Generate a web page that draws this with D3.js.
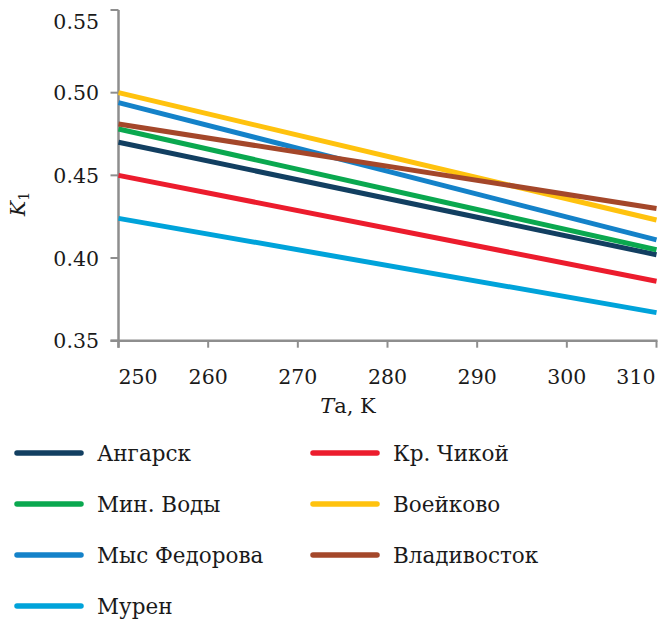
<!DOCTYPE html>
<html>
<head>
<meta charset="utf-8">
<script src="https://cdn.jsdelivr.net/npm/d3@7"></script>
<style>
  body { margin: 0; background: #fff; }
  svg text { font-family: "DejaVu Serif", "Liberation Serif", serif; fill: #1a1a1a; }
</style>
</head>
<body>
<div id="svganchor"></div>
<script>
/*
------------------------------
DATA: temperature (K) and K1 value for each station
------------------------------
*/
const temps = [250, 310];
const xTicks = [250, 260, 270, 280, 290, 300, 310];
const yTicks = [0.35, 0.40, 0.45, 0.50, 0.55];

const angarsk = [0.470, 0.402];
const krChikoy = [0.450, 0.386];
const minVody = [0.478, 0.405];
const voeikovo = [0.500, 0.423];
const mysFedorova = [0.494, 0.411];
const vladivostok = [0.481, 0.430];
const muren = [0.424, 0.367];

// legend order (Excel fills the legend row by row)
const stations = [
    { name: "Ангарск", values: angarsk, color: "#123f61" },
    { name: "Кр. Чикой", values: krChikoy, color: "#ec1c2d" },
    { name: "Мин. Воды", values: minVody, color: "#0aa84f" },
    { name: "Воейково", values: voeikovo, color: "#ffc20e" },
    { name: "Мыс Федорова", values: mysFedorova, color: "#1482c9" },
    { name: "Владивосток", values: vladivostok, color: "#a4472a" },
    { name: "Мурен", values: muren, color: "#00a3da" }
];

/*
------------------------------
METHOD: set the canvas and scales
------------------------------
*/
const width = 660, height = 623;
const axisColor = "#8e8e8e";

const svg = d3.select("#svganchor")
    .append("svg")
    .attr("width", width)
    .attr("height", height);

const x = d3.scaleLinear().domain([250, 310]).range([118.5, 656.5]);
const y = d3.scaleLinear().domain([0.35, 0.55]).range([340.7, 10]);

/*
------------------------------
METHOD: axes
------------------------------
*/
// y axis line + ticks
svg.append("line")
    .attr("x1", x(250)).attr("x2", x(250))
    .attr("y1", y(0.55)).attr("y2", y(0.35) + 7)
    .attr("stroke", axisColor).attr("stroke-width", 2.5);

svg.selectAll(".ytick")
    .data(yTicks)
    .join("line")
    .attr("class", "ytick")
    .attr("x1", x(250) - 8).attr("x2", x(250))
    .attr("y1", d => y(d)).attr("y2", d => y(d))
    .attr("stroke", axisColor).attr("stroke-width", 2);

svg.selectAll(".ylabel")
    .data(yTicks)
    .join("text")
    .attr("class", "ylabel")
    .attr("x", 99)
    .attr("y", d => Math.max(y(d), 21) + 7.5)   // top label gets pushed down to fit
    .attr("text-anchor", "end")
    .attr("font-size", "20.5px")
    .text(d => d.toFixed(2));

// x axis line + ticks
svg.append("line")
    .attr("x1", x(250) - 8).attr("x2", x(310) + 1)
    .attr("y1", y(0.35)).attr("y2", y(0.35))
    .attr("stroke", axisColor).attr("stroke-width", 2.5);

svg.selectAll(".xtick")
    .data(xTicks)
    .join("line")
    .attr("class", "xtick")
    .attr("x1", d => x(d)).attr("x2", d => x(d))
    .attr("y1", y(0.35)).attr("y2", y(0.35) + 7)
    .attr("stroke", axisColor).attr("stroke-width", 2);

svg.selectAll(".xlabel")
    .data(xTicks)
    .join("text")
    .attr("class", "xlabel")
    .attr("x", (d, i) => i === xTicks.length - 1 ? x(d) - 1 : x(d))
    .attr("y", 384)
    .attr("text-anchor", (d, i) => i === 0 ? "start" : (i === xTicks.length - 1 ? "end" : "middle"))
    .attr("font-size", "20.5px")
    .text(d => d);

// axis titles
const xTitle = svg.append("text")
    .attr("x", 348).attr("y", 413)
    .attr("text-anchor", "middle")
    .attr("font-size", "21px");
xTitle.append("tspan").attr("font-style", "italic").text("T");
xTitle.append("tspan").text("a, K");

const yTitle = svg.append("text")
    .attr("transform", "translate(25,204) rotate(-90)")
    .attr("text-anchor", "middle")
    .attr("font-size", "20.5px");
yTitle.append("tspan").attr("font-style", "italic").text("K");
yTitle.append("tspan").attr("font-size", "14px").attr("dy", 4).text("1");

/*
------------------------------
METHOD: draw the lines
------------------------------
*/
const line = d3.line()
    .x((d, i) => x(temps[i]))
    .y(d => y(d));

svg.selectAll(".series")
    .data(stations)
    .join("path")
    .attr("class", "series")
    .attr("d", d => line(d.values))
    .attr("fill", "none")
    .attr("stroke", d => d.color)
    .attr("stroke-width", 5);

/*
------------------------------
METHOD: legend, two columns filled row by row
------------------------------
*/
const legendRows = [453, 504, 555, 606];
const legendCols = [17, 313];

const legend = svg.selectAll(".legend")
    .data(stations)
    .join("g")
    .attr("class", "legend")
    .attr("transform", (d, i) => "translate(" + legendCols[i % 2] + "," + legendRows[Math.floor(i / 2)] + ")");

legend.append("line")
    .attr("x1", 0).attr("x2", 64)
    .attr("y1", 0).attr("y2", 0)
    .attr("stroke", d => d.color)
    .attr("stroke-width", 5.5)
    .attr("stroke-linecap", "round");

legend.append("text")
    .attr("x", 80).attr("y", 7.5)
    .attr("font-size", "21.5px")
    .text(d => d.name);
</script>
</body>
</html>
